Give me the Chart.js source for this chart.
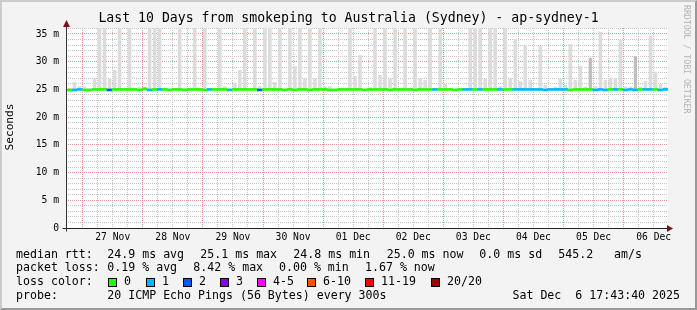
<!DOCTYPE html>
<html><head><meta charset="utf-8">
<script src="https://cdn.jsdelivr.net/npm/chart.js@4/dist/chart.umd.min.js"></script>
<style>
html,body{margin:0;padding:0;background:#f3f3f3;}
#wrap{position:relative;width:697px;height:310px;background:#f3f3f3;overflow:hidden;font-family:"DejaVu Sans Mono",monospace;color:#000;}
#frame{position:absolute;left:0;top:0;width:697px;height:310px;box-sizing:border-box;border-top:2px solid #cbcbcb;border-left:2px solid #cbcbcb;border-right:2px solid #999;border-bottom:2px solid #999;pointer-events:none;}
canvas{position:absolute;left:0;top:0;}
.t{position:absolute;white-space:pre;line-height:1;}
.lg{font-size:11.6px;}
.box{position:absolute;width:7px;height:7px;border:1px solid #000;}
</style></head>
<body>
<div id="wrap">
<canvas id="c" width="697" height="310"></canvas>
<div class="t" id="title" style="font-size:13.2px;left:0;width:697px;text-align:center;top:11px;">Last 10 Days from smokeping to Australia (Sydney) - ap-sydney-1</div>
<div class="t" style="font-size:11.2px;line-height:12px;height:12px;color:#000;left:-15px;top:121px;width:50px;text-align:center;transform:rotate(-90deg);">Seconds</div>
<div class="t" style="font-size:8.2px;color:#b4b4b4;left:683px;top:5px;writing-mode:vertical-rl;">RRDTOOL / TOBI OETIKER</div>
<div id="legend"></div>
<div id="frame"></div>
</div>
<script>
// ---- data (bins of 2 hours, first bin starts 26 Nov 17:43:40) ----
const dayLabels = ['27 Nov','28 Nov','29 Nov','30 Nov','01 Dec','02 Dec','03 Dec','04 Dec','05 Dec','06 Dec'];
const startHour = 17.728;   // hours after 26 Nov 00:00
const endHour = 257.728;    // 06 Dec 17:43:40
const binHours = 2;

// top of the smoke (ms) per bin
const smokeHigh = [
 25.2,26.3,25.6,25.5,25.2,27.0,37,37,27.0,28.5,
 37,25.2,37,25.2,25.4,25.5,37,37,37,25.2,
 25.2,25.2,37,25.3,25.2,37,25.2,37,25.2,25.2,
 37,25.6,25.2,26.2,28.5,37,25.2,37,25.6,37,
 37,26.3,37,25.2,37,29.2,37,27.0,37,27.0,
 37,25.6,25.6,25.2,25.2,25.2,37,27.4,31.2,25.2,
 25.4,37,27.6,37,27.0,37,25.2,37,25.2,37,
 27.0,26.7,37,25.2,37,26.0,25.2,25.2,25.2,25.2,
 37,37,37,26.9,37,37,25.6,37,27.0,34.0,
 26.5,33.0,26.7,25.2,32.8,25.8,25.2,25.5,27.0,25.8,
 33.2,26.7,29.2,25.5,30.7,25.6,35.4,26.7,27.0,27.0,
 33.9,25.5,25.5,31.0,25.5,26.5,34.6,28.2,26.0,25.5
];
// denser smoke (darker grey) in a few bins
const smokeDense = [
 null,null,null,null,null,null,null,null,null,null,
 null,null,null,null,null,null,null,null,null,null,
 null,null,null,null,null,null,null,null,null,null,
 null,null,null,null,null,null,null,null,null,null,
 null,null,null,null,null,null,null,null,null,null,
 null,null,null,null,null,null,null,null,null,null,
 null,null,null,null,null,null,null,null,null,null,
 null,null,null,null,null,null,null,null,null,null,
 null,null,null,null,null,null,null,null,null,null,
 null,null,null,null,null,null,null,null,null,null,
 null,null,null,null,30.7,null,null,null,null,null,
 null,null,null,31.0,null,null,null,null,null,null
];
// median rtt (ms) per bin
const medianRtt = [
 24.9,24.9,25.0,24.9,24.9,25.0,25.0,25.0,24.9,25.0,
 25.0,25.0,25.0,25.0,24.9,25.1,24.9,25.0,25.0,25.0,
 24.9,25.0,25.0,24.9,25.0,25.0,25.0,24.9,25.0,25.0,
 25.0,25.0,24.9,25.0,25.0,25.0,25.0,25.0,24.9,25.0,
 25.0,25.0,25.0,24.9,25.0,24.9,25.0,25.0,24.9,25.0,
 25.0,25.0,24.9,24.9,25.0,25.0,25.0,25.0,25.0,24.9,
 25.0,25.0,25.0,25.0,24.9,25.0,25.0,25.0,25.0,24.9,
 25.0,25.0,25.0,25.0,25.0,25.0,25.0,24.9,25.0,25.0,
 25.0,25.0,25.0,25.0,25.0,25.0,25.0,25.0,25.0,25.0,
 25.0,25.0,25.0,25.0,25.0,24.9,25.0,25.0,25.0,25.0,
 24.9,25.0,25.0,25.0,25.0,24.9,25.0,24.9,25.0,25.0,
 25.0,24.9,25.0,24.9,25.0,25.0,25.0,25.0,24.9,25.0
];
// loss class per bin (index into lossColors)
const lossClass = [
 0,1,1,0,0,0,0,0,2,0,
 0,0,0,0,0,0,1,0,1,0,
 0,0,0,0,0,0,0,0,1,0,
 0,0,1,0,0,0,0,0,2,0,
 0,0,0,0,0,0,0,0,0,0,
 0,0,0,0,0,0,0,0,0,0,
 0,0,0,0,0,0,0,0,0,0,
 0,0,0,1,0,0,0,0,0,1,
 1,0,1,0,0,0,1,0,0,1,
 1,1,1,1,1,1,1,1,1,1,
 0,0,0,0,0,1,1,1,0,1,
 0,1,1,1,0,1,1,0,1,1
];
const lossColors = ['#26ff00','#00b8ff','#0059ff','#7e00ff','#ff00ff','#ff5500','#ff0000','#a10000'];
const lossLabels = ['0','1','2','3','4-5','6-10','11-19','20/20'];

const rttStats = ['24.9 ms avg','25.1 ms max','24.8 ms min','25.0 ms now','0.0 ms sd','545.2','am/s'];
const lossStats = ['0.19 % avg','8.42 % max','0.00 % min','1.67 % now'];
const probeText = '20 ICMP Echo Pings (56 Bytes) every 300s';
const stampText = 'Sat Dec  6 17:43:40 2025';

// ---- legend (html text) ----
(function(){
  const lg = document.getElementById('legend');
  function txt(s, left, top, extra){
    const d = document.createElement('div');
    d.className = 't lg'; d.textContent = s;
    d.style.left = left + 'px'; d.style.top = top + 'px';
    if (extra) Object.assign(d.style, extra);
    lg.appendChild(d); return d;
  }
  const tops = [248.5, 262.2, 276.2, 289.9];
  txt('median rtt:', 16, tops[0]);
  const rttX = [107.3, 200.3, 293.3, 386.7, 479.3, 558.3, 614];
  rttStats.forEach((s,i)=>txt(s, rttX[i], tops[0]));
  txt('packet loss:', 16, tops[1]);
  const lossX = [107.3, 193.3, 279, 365];
  lossStats.forEach((s,i)=>txt(s, lossX[i], tops[1]));
  txt('loss color:', 16, tops[2]);
  const boxX = [108, 146, 183, 220, 257, 307, 365, 431];
  lossLabels.forEach((s,i)=>{
    const b = document.createElement('div');
    b.className = 'box'; b.style.left = boxX[i] + 'px'; b.style.top = '278px';
    b.style.background = lossColors[i];
    lg.appendChild(b);
    txt(s, boxX[i] + 16, tops[2]);
  });
  txt('probe:', 16, tops[3]);
  txt(probeText, 107.3, tops[3]);
  txt(stampText, 0, tops[3], {left:'auto', right:'17px'});
})();

// ---- chart ----
const binX = smokeHigh.map((_, i) => startHour + binHours * i + binHours / 2);
const smokeData = smokeHigh.map((h, i) => ({x: binX[i], y: [medianRtt[i], h]}));
const denseData = smokeDense.map((h, i) => ({x: binX[i], y: h === null ? null : [medianRtt[i], h]}));
const medianData = medianRtt.map((m, i) => ({x: binX[i], y: [m - 0.18, m + 0.18]}));

const yTickVals = []; for (let v = 0; v <= 36; v++) yTickVals.push(v);
const xTickVals = []; for (let h = 18; h <= endHour; h += 6) xTickVals.push(h);

const monoTick = {family: 'DejaVu Sans Mono', size: 9.7};
const minorGrid = '#c4c4c4';
const majorGrid = '#e8908f';

const decor = {
  id: 'decor',
  beforeDatasetsDraw(chart) {
    const {ctx, chartArea: a, scales} = chart;
    const L = Math.round(a.left), R = Math.round(a.right), T = Math.round(a.top), B = Math.round(a.bottom);
    ctx.save();
    ctx.fillStyle = '#ffffff';
    ctx.fillRect(L, T, R - L, B - T);
    const vLine = (px, col) => { ctx.fillStyle = col; for (let yy = B - 2; yy >= T; yy -= 2) ctx.fillRect(px, yy, 1, 1); };
    const hLine = (py, col) => { ctx.fillStyle = col; for (let xx = L + 1; xx < R; xx += 2) ctx.fillRect(xx, py, 1, 1); };
    const pass = (major) => {
      xTickVals.forEach(v => {
        if ((v % 24 === 0) !== major) return;
        const px = Math.floor(scales.x.getPixelForValue(v));
        if (px > L && px < R) vLine(px, major ? majorGrid : minorGrid);
      });
      yTickVals.forEach(v => {
        if ((v % 5 === 0) !== major || v === 0) return;
        const py = Math.floor(scales.y.getPixelForValue(v));
        if (py >= T && py < B) hLine(py, major ? majorGrid : minorGrid);
      });
    };
    pass(false); pass(true);
    ctx.restore();
  },
  afterDatasetsDraw(chart) {
    const {ctx, chartArea: a} = chart;
    const x0 = Math.round(a.left) - 0.5, y0 = Math.round(a.bottom) + 0.5;
    ctx.save();
    ctx.lineWidth = 1;
    ctx.strokeStyle = '#222';
    ctx.beginPath(); ctx.moveTo(x0 - 4, y0); ctx.lineTo(a.right + 1, y0); ctx.stroke();
    ctx.strokeStyle = '#333';
    ctx.beginPath(); ctx.moveTo(x0, y0 + 3); ctx.lineTo(x0, a.top - 4); ctx.stroke();
    ctx.fillStyle = '#7a1010';
    ctx.beginPath(); ctx.moveTo(x0, a.top - 8); ctx.lineTo(x0 - 3.5, a.top - 1); ctx.lineTo(x0 + 3.5, a.top - 1); ctx.closePath(); ctx.fill();
    ctx.beginPath(); ctx.moveTo(a.right + 5, y0); ctx.lineTo(a.right - 1, y0 - 3.5); ctx.lineTo(a.right - 1, y0 + 3.5); ctx.closePath(); ctx.fill();
    ctx.restore();
  }
};

new Chart(document.getElementById('c'), {
  type: 'bar',
  data: {
    datasets: [
      {label: 'median', data: medianData, order: 0, grouped: false,
       backgroundColor: lossClass.map(k => lossColors[k]), borderWidth: 0,
       barPercentage: 1, categoryPercentage: 1},
      {label: 'dense smoke', data: denseData, order: 1, grouped: false,
       backgroundColor: '#bdbdbd', borderWidth: 0, barPercentage: 0.6, categoryPercentage: 1},
      {label: 'smoke', data: smokeData, order: 2, grouped: false,
       backgroundColor: '#dcdcdc', borderWidth: 0, barPercentage: 0.72, categoryPercentage: 1}
    ]
  },
  options: {
    responsive: false, animation: false, events: [],
    layout: {padding: {left: 0, top: 28, right: 29, bottom: 0}},
    plugins: {legend: {display: false}, tooltip: {enabled: false}, title: {display: false}},
    scales: {
      x: {
        type: 'linear', min: startHour, max: endHour, offset: false,
        afterBuildTicks: s => { s.ticks = xTickVals.map(v => ({value: v})); },
        afterFit: s => { s.height = 82; },
        grid: {display: false, offset: false, drawTicks: false},
        border: {display: false},
        ticks: {autoSkip: false, maxRotation: 0, padding: 4, color: '#000', font: monoTick,
                callback: v => (v % 24 === 12) ? dayLabels[(v - 36) / 24] : ''}
      },
      y: {
        type: 'linear', min: 0, max: 36.08,
        afterBuildTicks: s => { s.ticks = yTickVals.map(v => ({value: v})); },
        afterFit: s => { s.width = 67; },
        grid: {display: false, drawTicks: false},
        border: {display: false},
        ticks: {autoSkip: false, padding: 8, color: '#000', font: monoTick,
                callback: v => (v % 5 === 0) ? (v === 0 ? '0' : v + ' m') : ''}
      }
    }
  },
  plugins: [decor]
});
</script>
</body></html>
